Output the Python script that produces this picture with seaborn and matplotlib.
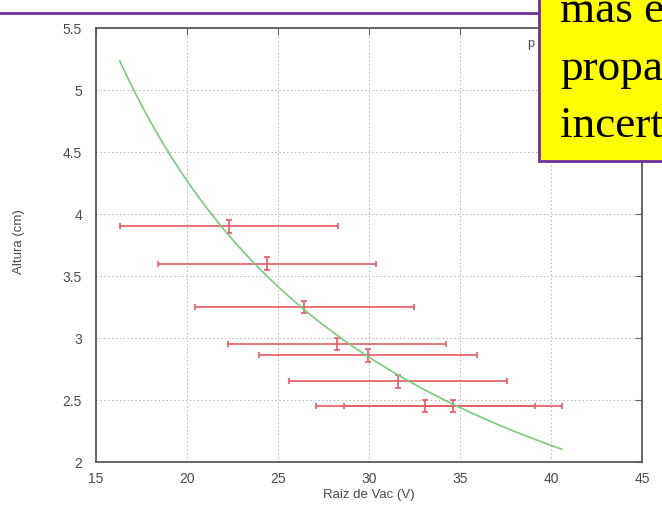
import numpy as np
import pandas as pd
import matplotlib
matplotlib.use("Agg")
import matplotlib.pyplot as plt
import seaborn as sns
from matplotlib.patches import Rectangle
from matplotlib.lines import Line2D

# Measured points: square root of the applied voltage vs. height
raiz_vac = [22.3, 24.4, 26.45, 28.25, 29.95, 31.6, 33.1, 34.6]
raiz_vac_err = [6.0, 6.0, 6.0, 6.0, 6.0, 6.0, 6.0, 6.0]
altura = [3.90, 3.60, 3.25, 2.95, 2.86, 2.65, 2.45, 2.45]
altura_err = [0.05, 0.05, 0.05, 0.05, 0.05, 0.05, 0.05, 0.05]

x_ticks = [15, 20, 25, 30, 35, 40, 45]
y_ticks = [2, 2.5, 3, 3.5, 4, 4.5, 5, 5.5]
nota = ["más exacta", "propagación", "incertidumbre"]

df = pd.DataFrame({"x": raiz_vac, "y": altura, "xerr": raiz_vac_err, "yerr": altura_err})

# Least-squares fit of h = a / sqrt(V)
xv = df["x"].to_numpy()
yv = df["y"].to_numpy()
a_fit = np.sum(yv / xv) / np.sum(1.0 / xv**2)
x_lo = (df["x"] - df["xerr"]).min()
x_hi = (df["x"] + df["xerr"]).max()
curve = pd.DataFrame({"x": np.linspace(x_lo, x_hi, 200)})
curve["y"] = a_fit / curve["x"]

sns.set_theme(style="white")
plt.rcParams["font.family"] = ["Liberation Sans", "DejaVu Sans"]

W, H = 662, 527
fig = plt.figure(figsize=(W / 100, H / 100), dpi=100)
fig.patch.set_facecolor("white")
ax = fig.add_axes([96 / W, 1 - 462 / H, (642 - 96) / W, (462 - 28) / H])

ax.errorbar(df["x"], df["y"], xerr=df["xerr"], yerr=df["yerr"], fmt="none",
            ecolor="#e45b62", elinewidth=1.2, capsize=2.5, capthick=1.2, zorder=3)
sns.lineplot(data=curve, x="x", y="y", ax=ax, color="#7cc97c", lw=1.2,
             zorder=4, legend=False)

ax.set_xlim(15, 45)
ax.set_ylim(2, 5.5)
ax.set_xticks(x_ticks)
ax.set_xticklabels([str(t) for t in x_ticks])
ax.set_yticks(y_ticks)
ax.set_yticklabels([f"{t:g}" for t in y_ticks])
ax.set_xlabel("")
ax.set_ylabel("")

ax.grid(True, linestyle=(0, (1.5, 2.5)), color="#b5b5b5", lw=0.7)
for s in ax.spines.values():
    s.set_color("#5a5a5a")
    s.set_linewidth(1.3)
ax.tick_params(direction="in", length=5, width=0.8, top=True, right=True,
               color="#666666", labelcolor="#4a4a4a", labelsize=10)
ax.tick_params(axis="x", pad=7)
ax.tick_params(axis="y", pad=10)

fig.text(369 / W, 1 - 495 / H, "Raiz de Vac (V)", ha="center", va="center",
         fontsize=9.5, color="#4a4a4a")
fig.text(19 / W, 1 - 242 / H, "Altura (cm)", ha="center", va="center",
         rotation=90, fontsize=9.5, color="#4a4a4a")

# key entry, partly covered by the note box
fig.text(527 / W, 1 - 44 / H, "p", ha="left", va="center", fontsize=9,
         color="#4a4a4a")

# slide header rule and note box
fig.add_artist(Line2D([0, 539 / W], [1 - 13 / H, 1 - 13 / H], color="#7030a0",
                      lw=2.0, transform=fig.transFigure, zorder=10))
fig.add_artist(Rectangle((539 / W, 1 - 161 / H), 0.3, 0.5, facecolor="#ffff00",
                         edgecolor="#7030a0", lw=2.0, transform=fig.transFigure,
                         zorder=11))
for baseline, line in zip([22, 80, 137], nota):
    fig.text(560 / W, 1 - baseline / H, line, ha="left", va="baseline",
             fontsize=32.5, family="Liberation Serif", color="black", zorder=12)

fig.savefig("out.png", dpi=100)
